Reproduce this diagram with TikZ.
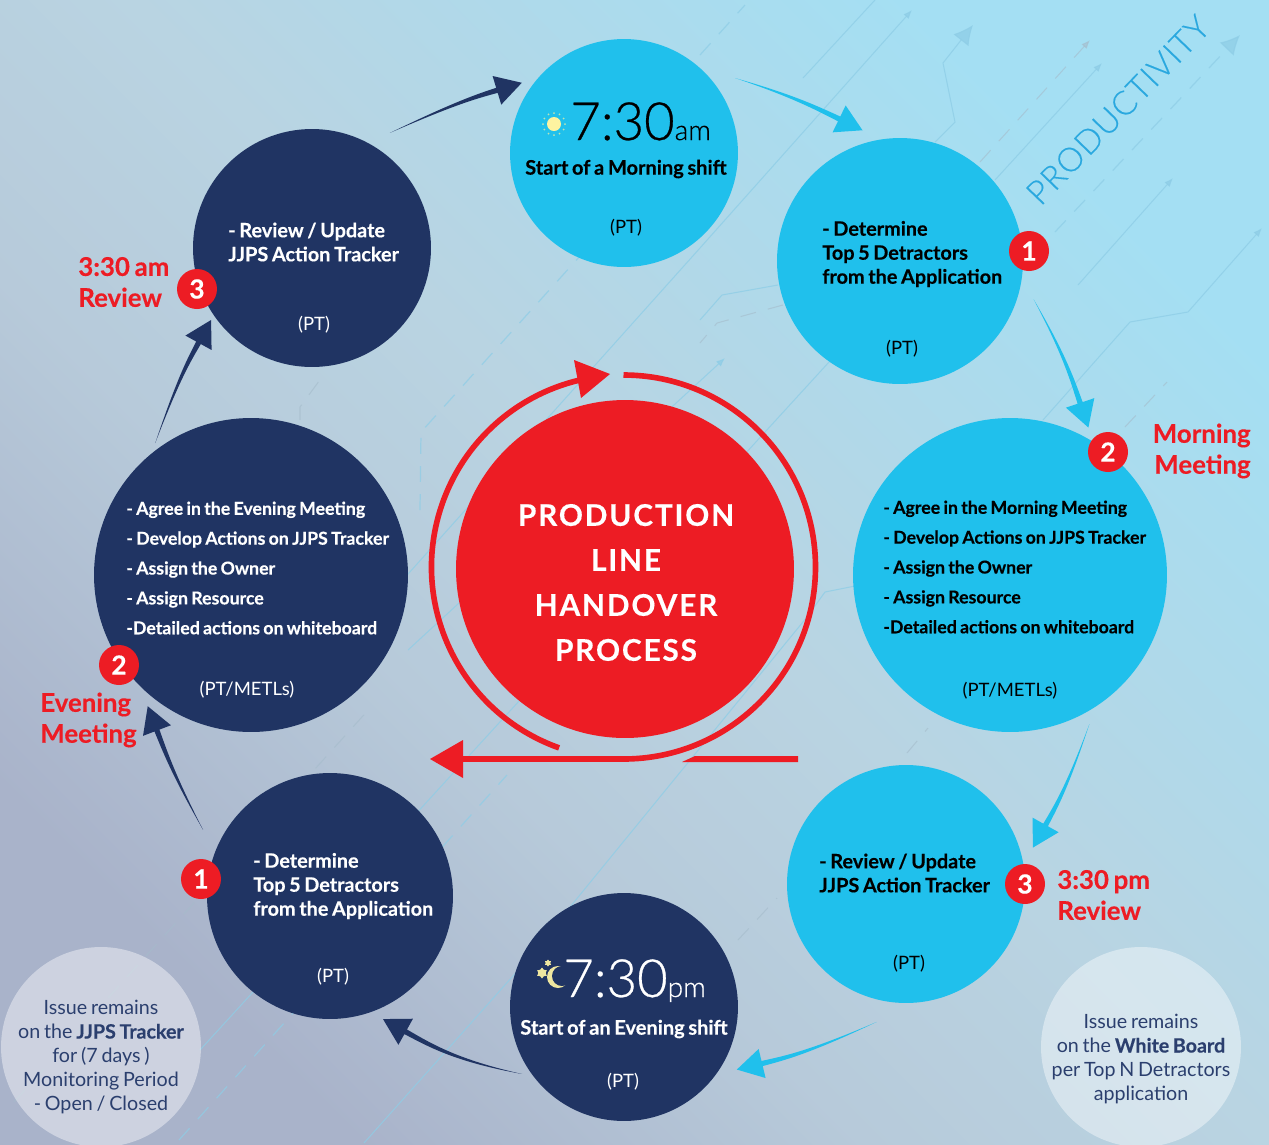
\documentclass[tikz,border=0pt]{standalone}
\usepackage{fontspec}
\setmainfont{Lato}[WordSpace=.75,BoldFeatures={FakeBold=.3}]
\newfontfamily\thinfont{Lato Light}[FakeBold=.5]
\newfontfamily\hubfont{Lato}[LetterSpace=6,BoldFeatures={FakeBold=.3}]
\newfontfamily\prodfont{Lato Light}[LetterSpace=3,FakeBold=.2]
\usetikzlibrary{positioning,calc,arrows.meta,shapes.geometric}
\definecolor{skyb}{HTML}{20C0EC}
\definecolor{navyb}{HTML}{203463}
\definecolor{redb}{HTML}{ED1C24}
\definecolor{bgtop}{HTML}{A4DFF3}
\definecolor{bgmid}{HTML}{B9D4E2}
\definecolor{bgnear}{HTML}{B7CADA}
\definecolor{bglow}{HTML}{A9B3CA}
\definecolor{linec}{HTML}{8ECDE6}
\definecolor{greyc}{HTML}{A5BCCB}
\definecolor{notec}{HTML}{2B3F6E}
\definecolor{prodc}{HTML}{2AA8DF}
\definecolor{sunc}{HTML}{FDF3A0}
\definecolor{moonc}{HTML}{EFE7A0}
\pgfdeclareverticalshading{bgshade}{100bp}{color(0bp)=(bglow); color(25bp)=(bglow); color(40bp)=(bgnear); color(52bp)=(bgmid); color(75bp)=(bgtop); color(100bp)=(bgtop)}
\tikzset{
	bubble/.style={circle,minimum size=#1,inner sep=0pt,outer sep=0pt},
	skybub/.style={bubble=#1,fill=skyb},
	navybub/.style={bubble=#1,fill=navyb},
	notebub/.style={bubble=4cm,fill=white,fill opacity=.42},
	badge/.style={bubble=.8cm,fill=redb,text=white,font=\bfseries\fontsize{15}{15}\selectfont},
	bgline/.style={linec,opacity=.75,line width=.6pt},
	bgdash/.style={linec,opacity=.7,line width=.7pt,dash pattern=on 9pt off 7pt},
	greydash/.style={greyc,opacity=.6,line width=.6pt,dash pattern=on 9pt off 7pt},
	body/.style={anchor=west,align=left,inner sep=0pt,font=\bfseries\fontsize{11.3}{13.66}\selectfont},
	steps/.style={anchor=west,align=left,inner sep=0pt,font=\bfseries\fontsize{10.1}{17}\selectfont},
	who/.style={inner sep=0pt,font=\fontsize{10.5}{12}\selectfont},
	shiftline/.style={inner sep=0pt,font=\bfseries\fontsize{11.4}{13}\selectfont},
	clock/.style={anchor=base west,inner sep=0pt},
	redtag/.style={inner sep=0pt,text=redb,font=\bfseries\fontsize{14.7}{17.6}\selectfont},
	notetext/.style={inner sep=0pt,align=center,text=notec,font=\fontsize{11.2}{13.66}\selectfont},
	ring/.style={redb,line width=3.2pt}
}
\newcommand{\wedgearrow}[4]{
	\coordinate (hb) at ($(#4)!14.8pt!(#3)$);
	\coordinate (hl) at ($(hb)!8.5pt!90:(#4)$);
	\coordinate (hr) at ($(hb)!8.5pt!-90:(#4)$);
	\coordinate (bl) at ($(hb)!1.5pt!90:(#4)$);
	\coordinate (br) at ($(hb)!1.5pt!-90:(#4)$);
	\coordinate (cl) at ($(#3)!.8pt!90:(hb)$);
	\coordinate (cr) at ($(#3)!.8pt!-90:(hb)$);
	\fill[#1] (#2) .. controls (cl) and ($(cl)!.5!(bl)$) .. (bl) -- (hl) -- (#4) -- (hr) -- (br) .. controls ($(cr)!.5!(br)$) and (cr) .. (#2) -- cycle;
}
\begin{document}
\begin{tikzpicture}[x=.02cm,y=.02cm]
	\useasboundingbox (0,-1144) rectangle (1269,0);
	\shade [shading=bgshade,shading angle=-45] (0,-1144) rectangle (1269,0);

	\draw [bgline,-{Latex[length=5pt,width=4pt]}] (400,-583) -- (700,-248) -- (912,-10);
	\draw [bgline] (803,-78) -- (875,0);
	\draw [bgline] (200,-1050) -- (840,-350);
	\draw [bgline] (364,-1143) -- (521,-967) -- (807,-617) -- (825,-592) -- (855,-586);
	\draw [bgline,-{Latex[length=5pt,width=4pt]}] (408,-650) -- (725,-358);
	\draw [bgline] (700,-320) -- (722,-295) -- (778,-285);
	\draw [bgline,-{Latex[length=5pt,width=4pt]}] (995,-180) -- (1102,-63);
	\draw [bgline,-{Latex[length=5pt,width=4pt]}] (1078,-285) -- (1173,-178);
	\draw [bgline,-{Latex[length=5pt,width=4pt]}] (1043,-420) -- (1130,-322) -- (1188,-312) -- (1262,-228);
	\draw [bgline,-{Latex[length=11pt,width=11pt]}] (935,-142) -- (955,-122) -- (943,-63) -- (973,-25);
	\draw [bgdash,-{Latex[length=11pt,width=11pt]}] (1055,-232) -- (1240,-35);
	\draw [bgdash] (179,-1140) -- (507,-775);
	\draw [bgdash] (420,-510) -- (421,-432) -- (590,-245);
	\draw [bgdash] (700,-55) -- (745,-5);
	\draw [greydash] (14,-1102) -- (371,-707);
	\draw [greydash] (300,-420) -- (300,-407) -- (325,-373);
	\draw [greydash,-{Latex[length=5pt,width=4pt]}] (980,-162) -- (1090,-40);
	\draw [greydash] (738,-940) -- (777,-898);
	\draw [greydash] (907,-753) -- (928,-728);
	\draw [greydash] (1125,-427) -- (1167,-382);
	\draw [greydash] (783,-305) -- (717,-323) -- (700,-343);

	\node [notebub] at (101,-1047) (noteL) {};
	\node [notebub] at (1141,-1047) (noteR) {};

	\node [skybub=4.56cm] at (624,-153) (am) {};
	\node [skybub=4.92cm] at (900,-261) (detA) {};
	\node [skybub=6.28cm] at (1010,-575) (agreeA) {};
	\node [skybub=4.76cm] at (906,-884) (revA) {};
	\node [navybub=4.56cm] at (624,-1007) (pm) {};
	\node [navybub=4.92cm] at (330,-896) (detB) {};
	\node [navybub=6.28cm] at (251,-575) (agreeB) {};
	\node [navybub=4.76cm] at (312,-248) (revB) {};
	\node [bubble=6.76cm,fill=redb] at (625,-569) (hub) {};
	\node [inner sep=0pt,text=white,align=center,font=\hubfont\bfseries\fontsize{17}{25.6}\selectfont] at (626,-582.5) (hubtext) {PRODUCTION\\LINE\\HANDOVER\\PROCESS};

	\coordinate (a1s) at ($(am)+(34:134)$);
	\coordinate (a1t) at ($(detA)+(106:136)$);
	\coordinate (a2s) at ($(detA)+(-16:139)$);
	\coordinate (a2t) at ($(agreeA)+(62:167)$);
	\coordinate (a3s) at ($(agreeA)+(-62:169)$);
	\coordinate (a3t) at ($(revA)+(16:132)$);
	\coordinate (a4s) at ($(revA)+(258:141)$);
	\coordinate (a4t) at ($(pm)+(-29:129)$);
	\coordinate (a5s) at ($(pm)+(213.3:122)$);
	\coordinate (a5t) at ($(detB)+(-66.7:134)$);
	\coordinate (a6s) at ($(detB)+(152.5:143)$);
	\coordinate (a6t) at ($(agreeB)+(231.8:167)$);
	\coordinate (a7s) at ($(agreeB)+(126:163)$);
	\coordinate (a7t) at ($(revB)+(215.5:124)$);
	\coordinate (a8s) at ($(revB)+(55.9:139)$);
	\coordinate (a8t) at ($(am)+(145.5:124)$);
	\coordinate (c1) at (790,-95);
	\coordinate (c2) at (1063,-352);
	\coordinate (c3) at (1068,-785);
	\coordinate (c4) at (810,-1052);
	\coordinate (c5) at (458,-1061);
	\coordinate (c6) at (175,-778);
	\coordinate (c7) at (178,-380);
	\coordinate (c8) at (455,-103);
	\wedgearrow{skyb}{a1s}{c1}{a1t}
	\wedgearrow{skyb}{a2s}{c2}{a2t}
	\wedgearrow{skyb}{a3s}{c3}{a3t}
	\wedgearrow{skyb}{a4s}{c4}{a4t}
	\wedgearrow{navyb}{a5s}{c5}{a5t}
	\wedgearrow{navyb}{a6s}{c6}{a6t}
	\wedgearrow{navyb}{a7s}{c7}{a7t}
	\wedgearrow{navyb}{a8s}{c8}{a8t}

	\coordinate (ctr) at (623.5,-567);
	\draw [ring] ($(ctr)+(90:192)$) arc [start angle=90,end angle=-90,radius=192] -- (460,-759);
	\fill [redb] (430,-759) -- (463,-740) -- (463,-778) -- cycle;
	\draw [ring] ($(ctr)+(250.4:192)$) arc [start angle=250.4,end angle=100,radius=192];
	\fill [redb] (610,-374) -- (574,-360) -- (581,-398) -- cycle;
	\fill [redb] (798,-756) -- (798,-762) -- (682,-762) -- (695,-756) -- cycle;

	\node [rotate=46,text=prodc,font=\prodfont\fontsize{19}{19}\selectfont] at (1118,-110) (prod) {PRODUCTIVITY};

	\node [bubble=.28cm,fill=sunc] at (554,-124) (sun) {};
	\foreach \a in {0,30,...,330} \fill [sunc!70!skyb] ($(sun)+(\a:11)$) circle [radius=1];
	\node [clock] at (570,-140) (amclock) {\thinfont\fontsize{30}{30}\selectfont 7:30\fontsize{16}{16}\selectfont am};
	\node [shiftline] at (626,-169) (amshift) {Start of a Morning shift};
	\node [who] at (626,-228) (amwho) {(PT)};

	\node [body] at (822,-254) (detAtext) {- Determine\\Top 5 Detractors\\from the Application};
	\node [who] at (902,-349) (detAwho) {(PT)};
	\node [steps] at (883,-567) (agreeAtext) {- Agree in the Morning Meeting\\- Develop Actions on JJPS Tracker\\- Assign the Owner\\- Assign Resource\\-Detailed actions on whiteboard};
	\node [who] at (1010,-691) (agreeAwho) {(PT/METLs)};
	\node [body] at (819,-873) (revAtext) {- Review / Update\\JJPS Action Tracker};
	\node [who] at (909,-964) (revAwho) {(PT)};

	\node [bubble=.44cm,fill=moonc] at (558,-977) (moon) {};
	\node [bubble=.4cm,fill=navyb] at (562,-976) (moonshade) {};
	\node [star,star points=6,fill=moonc,inner sep=0pt,minimum size=.22cm] at (542,-973) (starA) {};
	\node [star,star points=6,fill=moonc,inner sep=0pt,minimum size=.14cm] at (548,-963) (starB) {};
	\node [clock,text=white] at (563,-997) (pmclock) {\thinfont\fontsize{30}{30}\selectfont 7:30\fontsize{16}{16}\selectfont pm};
	\node [shiftline,text=white] at (624,-1029) (pmshift) {Start of an Evening shift};
	\node [who,text=white] at (623,-1082) (pmwho) {(PT)};

	\node [body,text=white] at (253,-886) (detBtext) {- Determine\\Top 5 Detractors\\from the Application};
	\node [who,text=white] at (333,-977) (detBwho) {(PT)};
	\node [steps,text=white] at (126,-568) (agreeBtext) {- Agree in the Evening Meeting\\- Develop Actions on JJPS Tracker\\- Assign the Owner\\- Assign Resource\\-Detailed actions on whiteboard};
	\node [who,text=white] at (247,-690) (agreeBwho) {(PT/METLs)};
	\node [body,text=white] at (228,-242) (revBtext) {- Review / Update\\JJPS Action Tracker};
	\node [who,text=white] at (314,-325) (revBwho) {(PT)};

	\node [badge] at (1029,-251) (oneA) {1};
	\node [badge] at (1108,-452) (twoA) {2};
	\node [badge] at (1025,-884) (threeA) {3};
	\node [badge] at (201,-879) (oneB) {1};
	\node [badge] at (119,-665) (twoB) {2};
	\node [badge] at (197,-289) (threeB) {3};

	\node [redtag,align=right,anchor=east] at (1251,-451) (tagmorn) {Morning\\Meeting};
	\node [redtag,align=left,anchor=west] at (1057,-895) (tagpm) {3:30 pm\\Review};
	\node [redtag,align=left,anchor=west] at (40,-720) (tageve) {Evening\\Meeting};
	\node [redtag,align=left,anchor=west] at (78,-282) (tagam) {3:30 am\\Review};

	\node [notetext] at (101,-1057) (noteLtext) {Issue remains\\on the \textbf{JJPS Tracker}\\for (7 days )\\Monitoring Period\\- Open / Closed};
	\node [notetext] at (1141,-1059) (noteRtext) {Issue remains\\on the \textbf{White Board}\\per Top N Detractors\\application};
\end{tikzpicture}
\end{document}
